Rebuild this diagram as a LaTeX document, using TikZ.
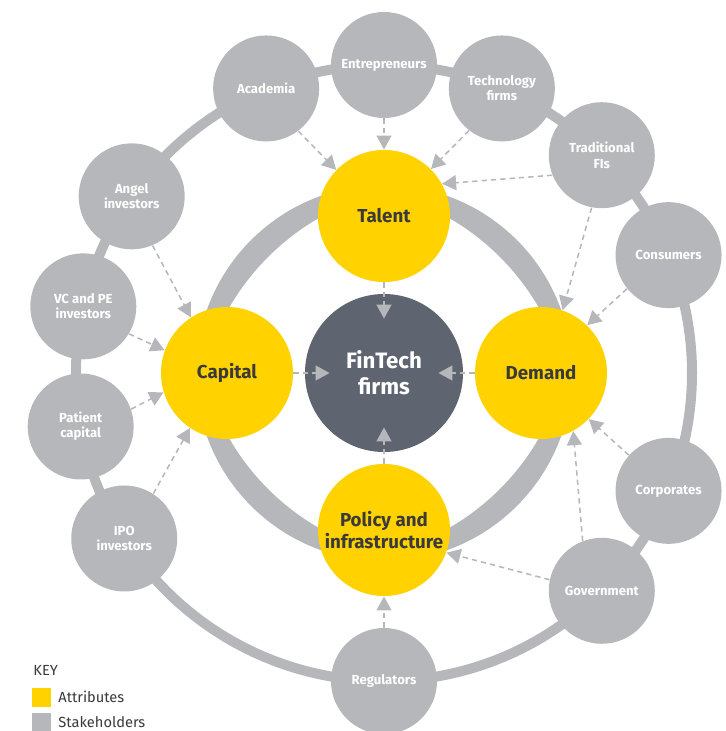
\documentclass[tikz,border=0pt]{standalone}
\usepackage{fontspec}
\setmainfont{Fira Sans}
\usetikzlibrary{positioning,arrows.meta,calc}
\definecolor{eyyellow}{RGB}{255,210,0}
\definecolor{eygrey}{RGB}{181,183,186}
\definecolor{eyslate}{RGB}{94,101,112}
\definecolor{eytext}{RGB}{58,58,58}

\begin{document}
\begin{tikzpicture}[x=0.03cm, y=0.03cm, thick]
% Definition of blocks:
\tikzset{%
  attribute/.style   = {circle, fill=eyyellow, inner sep=0pt, minimum size=3.96cm, align=center, text=eytext, font=\bfseries\fontsize{16}{18.5}\selectfont},
  stakeholder/.style = {circle, fill=eygrey, inner sep=0pt, minimum size=3.18cm, align=center, text=white, font=\bfseries\fontsize{11.2}{13}\selectfont},
  core/.style        = {circle, fill=eyslate, inner sep=0pt, minimum size=4.74cm, align=center, text=white, font=\bfseries\fontsize{19}{22}\selectfont},
  flow/.style        = {draw=eygrey, line width=1.3pt, dash pattern=on 4.5pt off 3.5pt, -{Triangle[length=0.42cm, width=0.45cm]}},
  %into/.style      = {shorten >=-0.75cm}, % into the core
  keybox/.style      = {minimum size=0.57cm, inner sep=0pt},
  keytext/.style     = {text=eytext, inner sep=0pt, font=\fontsize{12.5}{14}\selectfont}
}

\useasboundingbox (-384,-358) rectangle (341,373);
\clip (-384,-358) rectangle (341,373);

\coordinate (O) at (0,0);

% outer ring and inner ring
\draw[eygrey, line width=0.3cm] (O) circle (308);
\foreach \b in {45,135,225,315}{
  \begin{scope}
    \clip (O) -- ({\b-45}:330) -- (\b:470) -- ({\b+45}:330) -- cycle;
    \fill[eygrey, even odd rule] (O) circle (188) ({\b+180}:80) circle (244);
  \end{scope}
}

\draw
	node [stakeholder] (Entrepreneurs) at (90:308) {Entrepreneurs}
	node [stakeholder] (TechFirms) at (67.5:308) {Technology\\firms}
	node [stakeholder] (TradFIs) at (45:308) {Traditional\\FIs}
	node [stakeholder] (Consumers) at (22.5:308) {Consumers}
	node [stakeholder] (Corporates) at (-22.5:308) {Corporates}
	node [stakeholder] (Government) at (-45:308) {Government}
	node [stakeholder] (Regulators) at (-90:308) {Regulators}
	node [stakeholder] (IPO) at (212.5:308) {IPO\\investors}
	node [stakeholder] (Patient) at (190:308) {Patient\\capital}
	node [stakeholder] (VCPE) at (167.5:308) {VC and PE\\investors}
	node [stakeholder] (Angel) at (145:308) {Angel\\investors}
	node [stakeholder] (Academia) at (112.5:308) {Academia};

\draw
	node [core] (FinTech) at (O) {FinTech\\firms}
	node [attribute] (Talent) at (90:157) {Talent}
	node [attribute] (Capital) at (180:157) {Capital}
	node [attribute] (Demand) at (0:157) {Demand}
	node [attribute] (Policy) at (270:157) {Policy and\\infrastructure};

\draw[flow](Academia.-53) -- (Talent.136);
\draw[flow](Entrepreneurs) -- (Talent);
\draw[flow](TechFirms.232) -- (Talent.45);
\draw[flow](TradFIs.202) -- (Talent.29);
\draw[flow](TradFIs.259) -- (Demand.71);
\draw[flow](Consumers.219) -- (Demand.46);
\draw[flow](Corporates.138) -- (Demand.-44);
\draw[flow](Government.111) -- (Demand.-61);
\draw[flow](Government.168) -- (Policy.-20);
\draw[flow](Regulators) -- (Policy);
\draw[flow](Angel.-67) -- (Capital.123);
\draw[flow](VCPE.-31) -- (Capital.160);
\draw[flow](Patient.19) -- (Capital.197);
\draw[flow](IPO.57) -- (Capital.236);

\draw[flow, shorten >=-0.75cm](Talent) -- (FinTech);
\draw[flow, shorten >=-0.75cm](Capital) -- (FinTech);
\draw[flow, shorten >=-0.75cm](Demand) -- (FinTech);
\draw[flow, shorten >=-0.75cm](Policy) -- (FinTech);

% key
\draw
	node [keytext, anchor=west] (Key) at (-351,-297) {KEY}
	node [keybox, fill=eyyellow] (KeyAttr) at (-342,-324) {}
	node [keytext, right = 0.18cm of KeyAttr] (AttrText) {Attributes}
	node [keybox, fill=eygrey] (KeyStake) at (-342,-349) {}
	node [keytext, right = 0.18cm of KeyStake] (StakeText) {Stakeholders};

\end{tikzpicture}
\end{document}
